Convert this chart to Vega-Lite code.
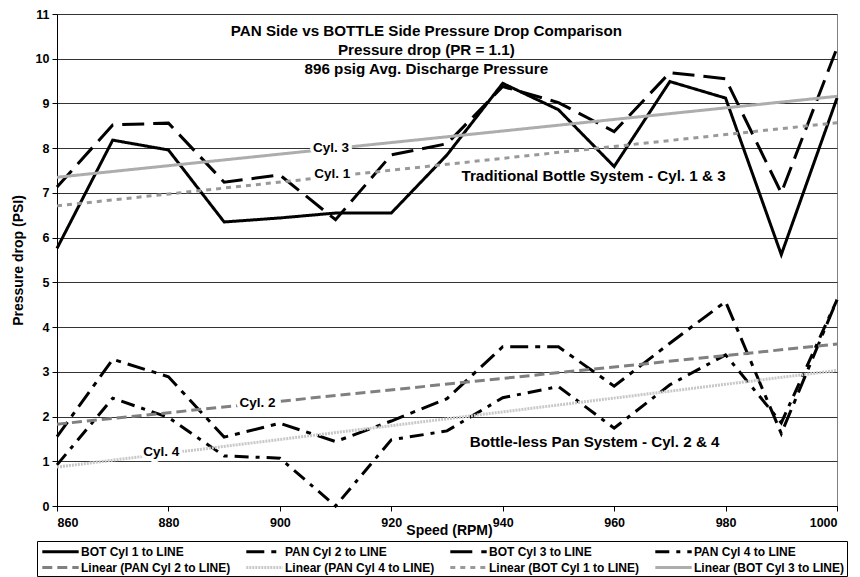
{
  "$schema": "https://vega.github.io/schema/vega-lite/v6.json",
  "width": 780,
  "height": 492,
  "autosize": {"type": "none"},
  "padding": {"left": 57, "top": 14, "right": 23, "bottom": 71},
  "background": "white",
  "config": {
    "font": "Liberation Sans",
    "view": {"stroke": "#808080", "strokeWidth": 1},
    "axis": {
      "labelFont": "Liberation Sans",
      "labelFontWeight": "bold",
      "labelFontSize": 12.5,
      "labelColor": "black",
      "titleFont": "Liberation Sans",
      "titleFontWeight": "bold",
      "titleFontSize": 14,
      "titleColor": "black",
      "domainColor": "black",
      "tickColor": "black",
      "tickSize": 5,
      "gridColor": "#333333",
      "gridOpacity": 1
    },
    "legend": {
      "labelFont": "Liberation Sans",
      "labelFontWeight": "bold",
      "labelFontSize": 12,
      "labelColor": "black",
      "symbolType": "M-2.6,0H2.6",
      "symbolSize": 196,
      "symbolStrokeWidth": 3,
      "symbolOffset": 13,
      "strokeColor": "black",
      "padding": 2,
      "rowPadding": 1,
      "columnPadding": 9,
      "labelOffset": 12
    }
  },
  "datasets": {
    "series": [
      {"series": "BOT Cyl 1 to LINE", "rpm": 860, "psi": 5.76},
      {"series": "BOT Cyl 1 to LINE", "rpm": 870, "psi": 8.18},
      {"series": "BOT Cyl 1 to LINE", "rpm": 880, "psi": 7.96},
      {"series": "BOT Cyl 1 to LINE", "rpm": 890, "psi": 6.35},
      {"series": "BOT Cyl 1 to LINE", "rpm": 900, "psi": 6.44},
      {"series": "BOT Cyl 1 to LINE", "rpm": 910, "psi": 6.55},
      {"series": "BOT Cyl 1 to LINE", "rpm": 920, "psi": 6.55},
      {"series": "BOT Cyl 1 to LINE", "rpm": 930, "psi": 7.85},
      {"series": "BOT Cyl 1 to LINE", "rpm": 940, "psi": 9.45},
      {"series": "BOT Cyl 1 to LINE", "rpm": 950, "psi": 8.86},
      {"series": "BOT Cyl 1 to LINE", "rpm": 960, "psi": 7.59},
      {"series": "BOT Cyl 1 to LINE", "rpm": 970, "psi": 9.49},
      {"series": "BOT Cyl 1 to LINE", "rpm": 980, "psi": 9.12},
      {"series": "BOT Cyl 1 to LINE", "rpm": 990, "psi": 5.62},
      {"series": "BOT Cyl 1 to LINE", "rpm": 1000, "psi": 9.12},
      {"series": "PAN Cyl 2 to LINE", "rpm": 860, "psi": 1.55},
      {"series": "PAN Cyl 2 to LINE", "rpm": 870, "psi": 3.28},
      {"series": "PAN Cyl 2 to LINE", "rpm": 880, "psi": 2.89},
      {"series": "PAN Cyl 2 to LINE", "rpm": 890, "psi": 1.54},
      {"series": "PAN Cyl 2 to LINE", "rpm": 900, "psi": 1.85},
      {"series": "PAN Cyl 2 to LINE", "rpm": 910, "psi": 1.44},
      {"series": "PAN Cyl 2 to LINE", "rpm": 920, "psi": 1.9},
      {"series": "PAN Cyl 2 to LINE", "rpm": 930, "psi": 2.4},
      {"series": "PAN Cyl 2 to LINE", "rpm": 940, "psi": 3.56},
      {"series": "PAN Cyl 2 to LINE", "rpm": 950, "psi": 3.56},
      {"series": "PAN Cyl 2 to LINE", "rpm": 960, "psi": 2.68},
      {"series": "PAN Cyl 2 to LINE", "rpm": 970, "psi": 3.64},
      {"series": "PAN Cyl 2 to LINE", "rpm": 980, "psi": 4.57},
      {"series": "PAN Cyl 2 to LINE", "rpm": 990, "psi": 1.62},
      {"series": "PAN Cyl 2 to LINE", "rpm": 1000, "psi": 4.61},
      {"series": "BOT Cyl 3 to LINE", "rpm": 860, "psi": 7.13},
      {"series": "BOT Cyl 3 to LINE", "rpm": 870, "psi": 8.52},
      {"series": "BOT Cyl 3 to LINE", "rpm": 880, "psi": 8.56},
      {"series": "BOT Cyl 3 to LINE", "rpm": 890, "psi": 7.24},
      {"series": "BOT Cyl 3 to LINE", "rpm": 900, "psi": 7.4},
      {"series": "BOT Cyl 3 to LINE", "rpm": 910, "psi": 6.4},
      {"series": "BOT Cyl 3 to LINE", "rpm": 920, "psi": 7.85},
      {"series": "BOT Cyl 3 to LINE", "rpm": 930, "psi": 8.1},
      {"series": "BOT Cyl 3 to LINE", "rpm": 940, "psi": 9.38},
      {"series": "BOT Cyl 3 to LINE", "rpm": 950, "psi": 9.02},
      {"series": "BOT Cyl 3 to LINE", "rpm": 960, "psi": 8.37},
      {"series": "BOT Cyl 3 to LINE", "rpm": 970, "psi": 9.69},
      {"series": "BOT Cyl 3 to LINE", "rpm": 980, "psi": 9.55},
      {"series": "BOT Cyl 3 to LINE", "rpm": 990, "psi": 7.0},
      {"series": "BOT Cyl 3 to LINE", "rpm": 1000, "psi": 10.24},
      {"series": "PAN Cyl 4 to LINE", "rpm": 860, "psi": 0.92},
      {"series": "PAN Cyl 4 to LINE", "rpm": 870, "psi": 2.41},
      {"series": "PAN Cyl 4 to LINE", "rpm": 880, "psi": 1.98},
      {"series": "PAN Cyl 4 to LINE", "rpm": 890, "psi": 1.12},
      {"series": "PAN Cyl 4 to LINE", "rpm": 900, "psi": 1.07},
      {"series": "PAN Cyl 4 to LINE", "rpm": 910, "psi": 0.0},
      {"series": "PAN Cyl 4 to LINE", "rpm": 920, "psi": 1.48},
      {"series": "PAN Cyl 4 to LINE", "rpm": 930, "psi": 1.68},
      {"series": "PAN Cyl 4 to LINE", "rpm": 940, "psi": 2.42},
      {"series": "PAN Cyl 4 to LINE", "rpm": 950, "psi": 2.67},
      {"series": "PAN Cyl 4 to LINE", "rpm": 960, "psi": 1.74},
      {"series": "PAN Cyl 4 to LINE", "rpm": 970, "psi": 2.71},
      {"series": "PAN Cyl 4 to LINE", "rpm": 980, "psi": 3.38},
      {"series": "PAN Cyl 4 to LINE", "rpm": 990, "psi": 1.86},
      {"series": "PAN Cyl 4 to LINE", "rpm": 1000, "psi": 4.61},
      {"series": "Linear (PAN Cyl 2 to LINE)", "rpm": 860, "psi": 1.83},
      {"series": "Linear (PAN Cyl 2 to LINE)", "rpm": 1000, "psi": 3.62},
      {"series": "Linear (PAN Cyl 4 to LINE)", "rpm": 860, "psi": 0.87},
      {"series": "Linear (PAN Cyl 4 to LINE)", "rpm": 1000, "psi": 3.03},
      {"series": "Linear (BOT Cyl 1 to LINE)", "rpm": 860, "psi": 6.71},
      {"series": "Linear (BOT Cyl 1 to LINE)", "rpm": 1000, "psi": 8.57},
      {"series": "Linear (BOT Cyl 3 to LINE)", "rpm": 860, "psi": 7.35},
      {"series": "Linear (BOT Cyl 3 to LINE)", "rpm": 1000, "psi": 9.16}
    ],
    "titles": [
      {"text": "PAN Side vs BOTTLE Side Pressure Drop Comparison", "rpm": 926.3, "psi": 10.61},
      {"text": "Pressure drop (PR = 1.1)", "rpm": 926.3, "psi": 10.2},
      {"text": "896 psig Avg. Discharge Pressure", "rpm": 926.3, "psi": 9.77},
      {"text": "Traditional Bottle System - Cyl. 1 & 3", "rpm": 956.3, "psi": 7.38},
      {"text": "Bottle-less Pan System - Cyl. 2 & 4", "rpm": 956.5, "psi": 1.43}
    ],
    "cyl": [
      {"text": "Cyl. 3", "rpm": 909.2, "psi": 8.01},
      {"text": "Cyl. 1", "rpm": 909.4, "psi": 7.43},
      {"text": "Cyl. 2", "rpm": 896.0, "psi": 2.3},
      {"text": "Cyl. 4", "rpm": 878.7, "psi": 1.2}
    ]
  },
  "layer": [
    {
      "data": {"name": "series"},
      "mark": {"type": "line", "strokeCap": "butt", "strokeJoin": "miter"},
      "encoding": {
        "x": {
          "field": "rpm", "type": "quantitative",
          "scale": {"domain": [860, 1000], "nice": false, "zero": false},
          "axis": {
            "values": [860, 880, 900, 920, 940, 960, 980, 1000],
            "format": "d",
            "grid": false,
            "title": "Speed (RPM)",
            "titleX": 392,
            "titleY": 24,
            "titleBaseline": "middle",
            "labelPadding": 5
          }
        },
        "y": {
          "field": "psi", "type": "quantitative",
          "scale": {"domain": [0, 11], "nice": false},
          "axis": {
            "values": [0, 1, 2, 3, 4, 5, 6, 7, 8, 9, 10, 11],
            "grid": true,
            "title": "Pressure drop (PSI)",
            "titlePadding": 10,
            "labelPadding": 3
          }
        },
        "color": {
          "field": "series", "type": "nominal",
          "scale": {
            "domain": ["BOT Cyl 1 to LINE", "PAN Cyl 2 to LINE", "BOT Cyl 3 to LINE", "PAN Cyl 4 to LINE", "Linear (PAN Cyl 2 to LINE)", "Linear (PAN Cyl 4 to LINE)", "Linear (BOT Cyl 1 to LINE)", "Linear (BOT Cyl 3 to LINE)"],
            "range": ["#000000", "#000000", "#000000", "#000000", "#808080", "#c8c8c8", "#999999", "#adadad"]
          },
          "legend": {
            "title": null,
            "orient": "none",
            "legendX": -20,
            "legendY": 527,
            "columns": 4,
            "direction": "horizontal"
          }
        },
        "strokeDash": {
          "field": "series", "type": "nominal",
          "scale": {
            "domain": ["BOT Cyl 1 to LINE", "PAN Cyl 2 to LINE", "BOT Cyl 3 to LINE", "PAN Cyl 4 to LINE", "Linear (PAN Cyl 2 to LINE)", "Linear (PAN Cyl 4 to LINE)", "Linear (BOT Cyl 1 to LINE)", "Linear (BOT Cyl 3 to LINE)"],
            "range": [[1, 0], [18, 7, 5, 7], [22, 9], [14, 7, 4, 7], [10, 5], [2, 1], [5, 5], [1, 0]]
          },
          "legend": {
            "title": null,
            "orient": "none",
            "legendX": -20,
            "legendY": 527,
            "columns": 4,
            "direction": "horizontal"
          }
        },
        "strokeWidth": {
          "field": "series", "type": "nominal",
          "scale": {
            "domain": ["BOT Cyl 1 to LINE", "PAN Cyl 2 to LINE", "BOT Cyl 3 to LINE", "PAN Cyl 4 to LINE", "Linear (PAN Cyl 2 to LINE)", "Linear (PAN Cyl 4 to LINE)", "Linear (BOT Cyl 1 to LINE)", "Linear (BOT Cyl 3 to LINE)"],
            "range": [3, 3, 3, 3, 2, 2, 2, 2]
          },
          "legend": null
        }
      }
    },
    {
      "data": {"name": "titles"},
      "mark": {"type": "text", "font": "Liberation Sans", "fontWeight": "bold", "fontSize": 15.2, "color": "black", "align": "center", "baseline": "middle"},
      "encoding": {
        "x": {"field": "rpm", "type": "quantitative"},
        "y": {"field": "psi", "type": "quantitative"},
        "text": {"field": "text", "type": "nominal"}
      }
    },
    {
      "data": {"name": "cyl"},
      "mark": {"type": "text", "font": "Liberation Sans", "fontWeight": "bold", "fontSize": 13.5, "align": "center", "baseline": "middle", "fill": "white", "stroke": "white", "strokeWidth": 7, "strokeJoin": "round"},
      "encoding": {
        "x": {"field": "rpm", "type": "quantitative"},
        "y": {"field": "psi", "type": "quantitative"},
        "text": {"field": "text", "type": "nominal"}
      }
    },
    {
      "data": {"name": "cyl"},
      "mark": {"type": "text", "font": "Liberation Sans", "fontWeight": "bold", "fontSize": 13.5, "color": "black", "align": "center", "baseline": "middle"},
      "encoding": {
        "x": {"field": "rpm", "type": "quantitative"},
        "y": {"field": "psi", "type": "quantitative"},
        "text": {"field": "text", "type": "nominal"}
      }
    }
  ]
}
